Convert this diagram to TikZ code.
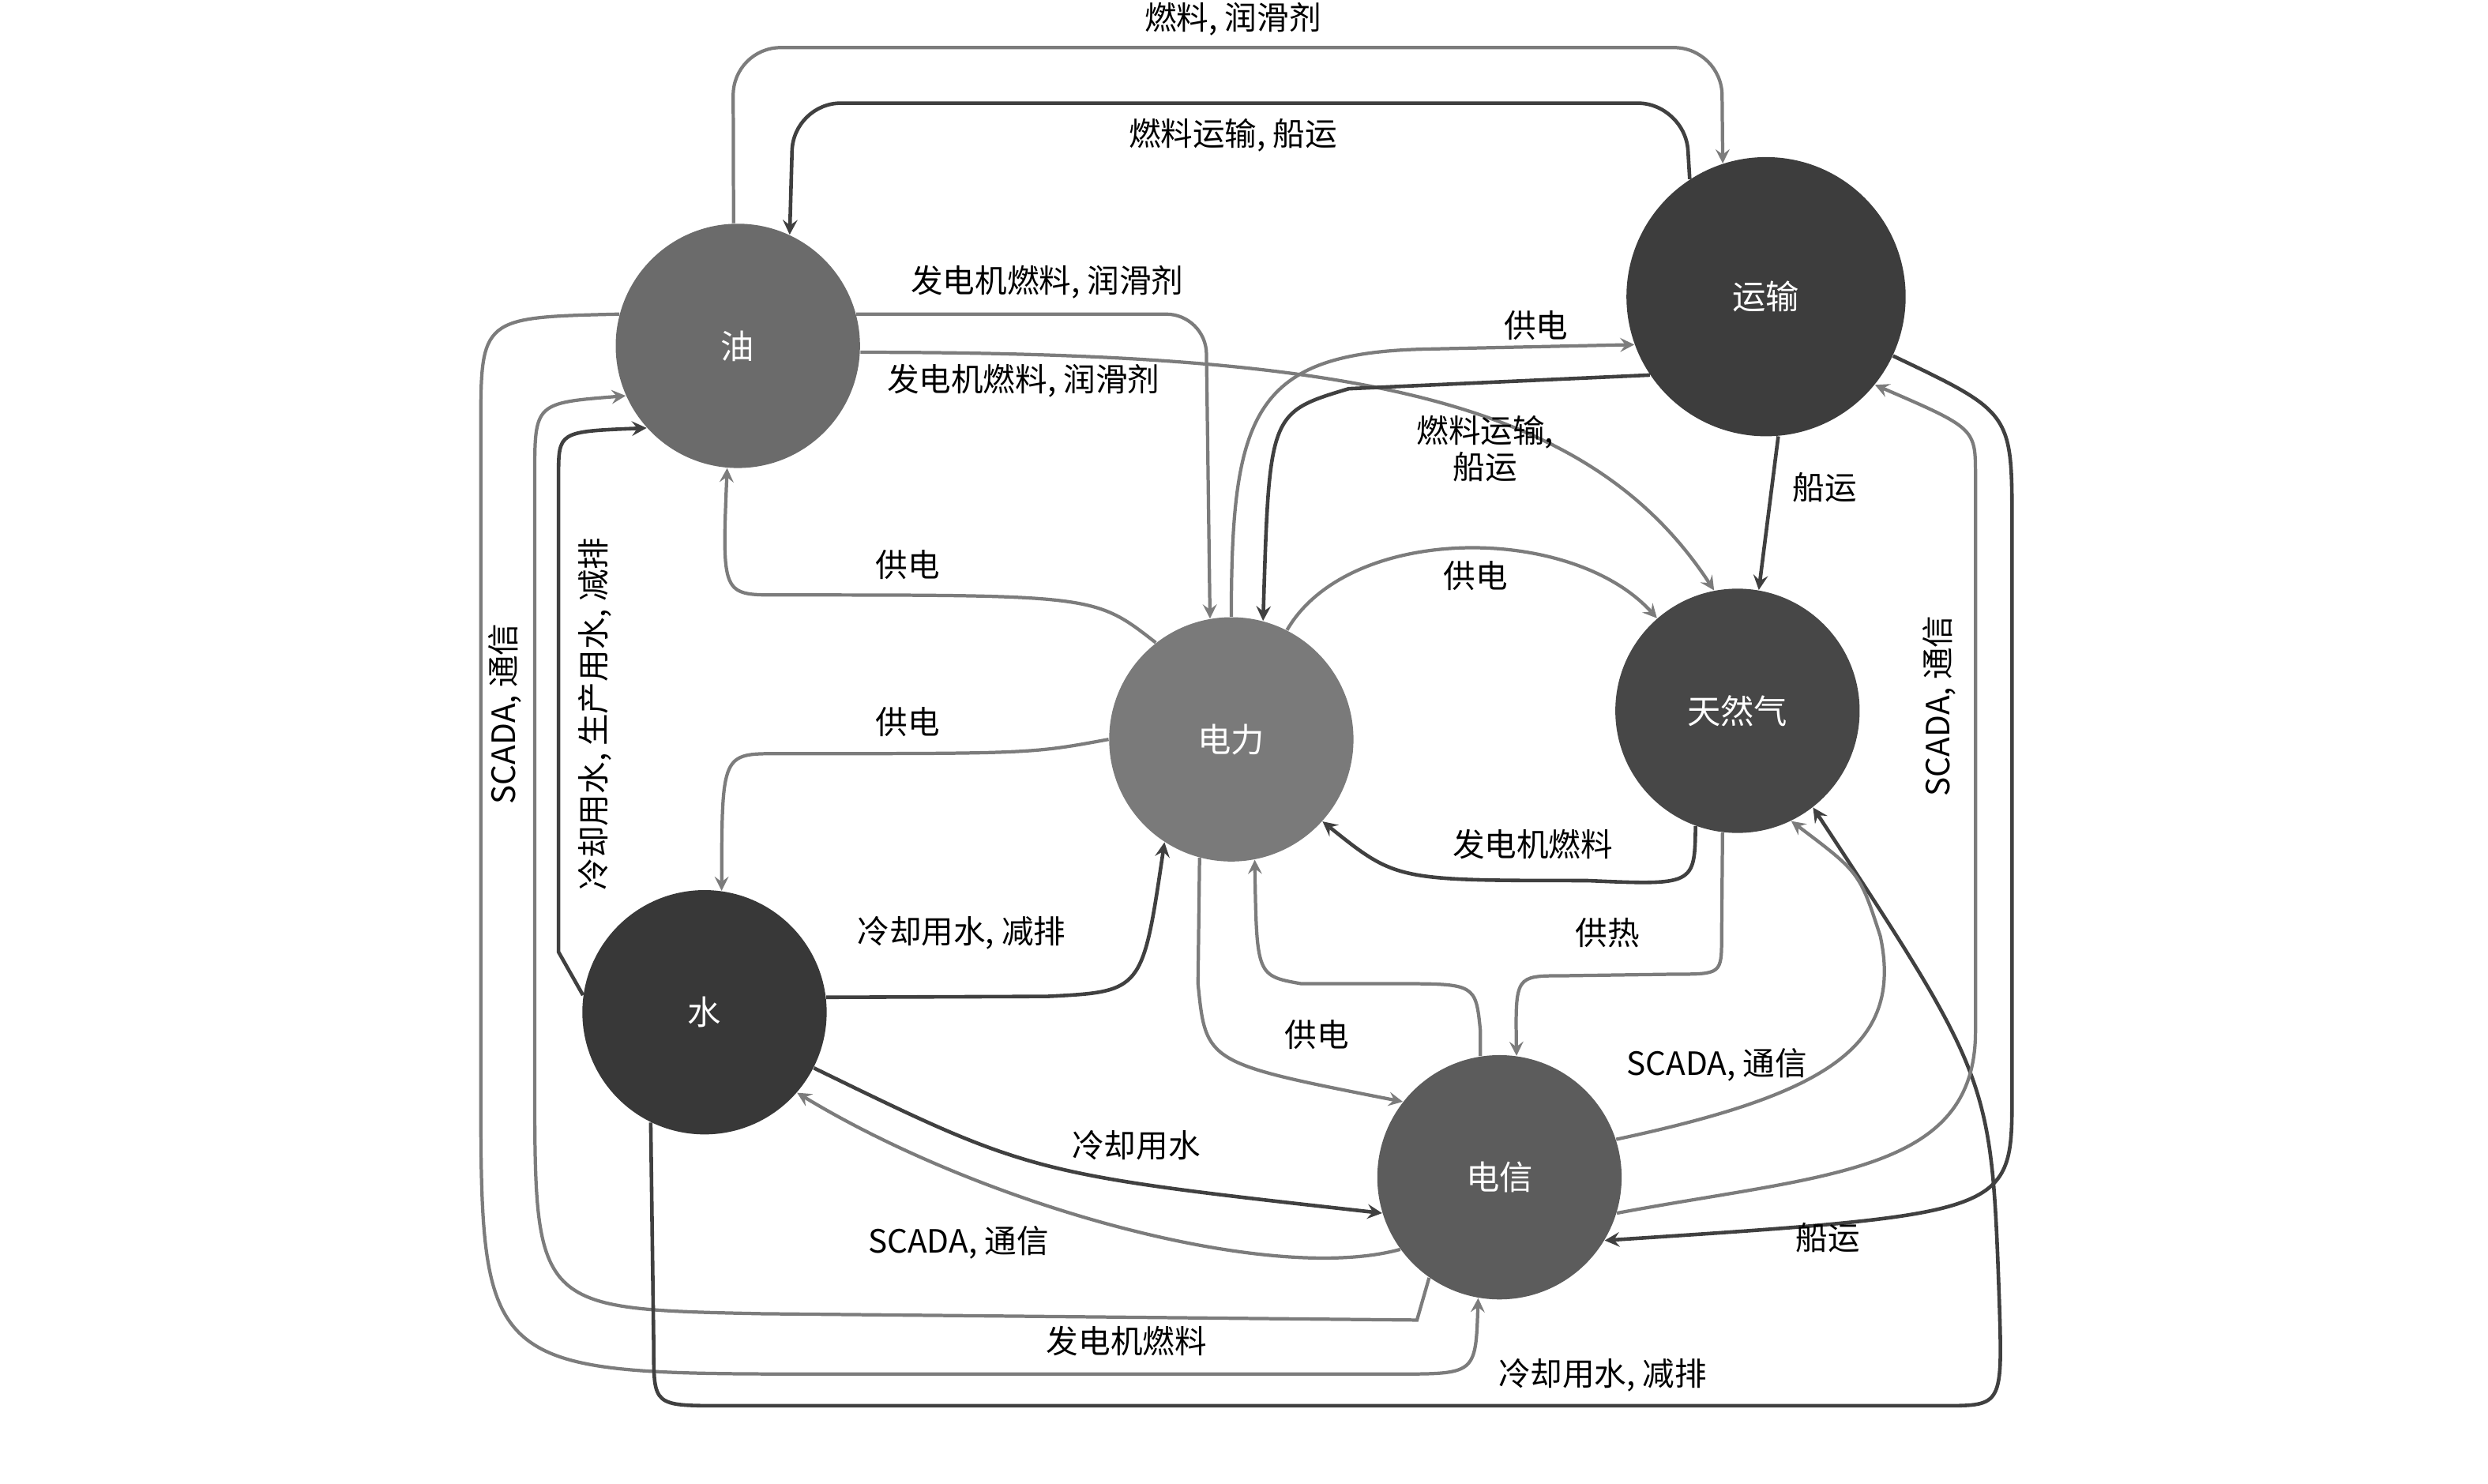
\documentclass[tikz,border=0pt]{standalone}
\usepackage{fontspec}
\setmainfont{Noto Sans CJK SC}
\usetikzlibrary{arrows}
\definecolor{linkgray}{HTML}{7C7C7C}
\definecolor{linkdark}{HTML}{404040}
\tikzstyle{link} = [line width=1.2pt, ->, >=stealth, linkgray]
\tikzstyle{linkd} = [line width=1.3pt, ->, >=stealth, linkdark]
\tikzstyle{lbl} = [font=\fontsize{11.5}{13}\selectfont, inner sep=1pt]
\tikzstyle{circleNode} = [
                circle,
                minimum size = 3.08cm,
                text centered,
                text=white,
                font=\fontsize{12}{14}\selectfont,
                inner sep=0cm
            ]
\begin{document}
\begin{tikzpicture}[x=0.02cm, y=-0.02cm]
\useasboundingbox (0,0) rectangle (1568,935);
\node (oil) [circleNode, fill=black!58] at (465,218) {油};
\node (trans) [circleNode, fill=black!76, minimum size=3.52cm] at (1113,187) {运输};
\node (power) [circleNode, fill=black!52] at (776,466) {电力};
\node (gas) [circleNode, fill=black!72] at (1095,448) {天然气};
\node (water) [circleNode, fill=black!78] at (444,638) {水};
\node (tele) [circleNode, fill=black!64] at (945,742) {电信};
% top
\draw [link, rounded corners=0.6cm] (oil.92) -- (462,30) -- (1085,30) -- (trans.108);
\draw [linkd, rounded corners=0.6cm] (trans.123) -- (1062,65) -- (500,65) -- (oil.65);
\draw [link, rounded corners=0.5cm] (oil.15) -- (760,198) -- (power.100);
\draw [link] (oil.-3) .. controls (850,222) and (1000,250) .. (gas.101);
\draw [link] (power.90) .. controls (776,260) and (790,222) .. (900,220) -- (trans.200);
\draw [linkd] (trans.214) -- (850,245) .. controls (800,260) .. (power.75);
\draw [linkd] (trans.-85) -- (gas.80);
\draw [link] (power.63) .. controls (850,330) and (990,330) .. (gas.131);
\draw [link] (power.128) .. controls (690,375) .. (490,375) .. controls (455,375) .. (oil.-95);
\draw [link] (power.180) .. controls (650,475) .. (490,475) .. controls (455,475) .. (water.82);
% middle
\draw [linkd] (gas.-110) .. controls (1068,558) .. (1000,555) .. controls (880,555) .. (power.-42);
\draw [link] (gas.-97) -- (1085,590) .. controls (1085,614) .. (1055,614) -- (985,615) .. controls (955,615) .. (tele.82);
\draw [linkd] (water.7) -- (660,628) .. controls (720,625) .. (power.-123);
\draw [link] (power.-105) -- (755,620) .. controls (760,670) .. (tele.142);
\draw [link] (tele.99) -- (933,650) .. controls (930,620) .. (880,620) -- (820,620) .. controls (792,615) .. (power.-79);
\draw [linkd] (water.-27) .. controls (650,740) .. (tele.-163);
\draw [link] (tele.216) .. controls (800,810) and (620,760) .. (water.-41);
% left and bottom
\draw [link] (oil.165) .. controls (303,200) .. (303,270) -- (303,680) .. controls (303,866) .. (520,866) -- (880,866) .. controls (930,866) .. (tele.260);
\draw [link] (tele.235) -- (893,832) -- (480,828) .. controls (337,825) .. (337,680) -- (337,300) .. controls (337,254) .. (oil.204);
\draw [linkd] (water.172) -- (352,600) -- (352,300) .. controls (352,272) .. (oil.222);
\draw [linkd] (water.-116) -- (412,850) .. controls (412,886) .. (455,886) -- (1225,886) .. controls (1262,886) .. (1260,820) .. controls (1255,680) .. (gas.-52);
% right
\draw [link] (tele.18) .. controls (1150,690) and (1200,660) .. (1185,590) .. controls (1172,550) .. (gas.-64);
\draw [link] (tele.-17) .. controls (1150,740) and (1245,740) .. (1245,650) -- (1245,300) .. controls (1245,270) .. (trans.-39);
\draw [linkd] (trans.-25) .. controls (1268,260) .. (1268,330) -- (1268,690) .. controls (1268,765) .. (tele.-31);
% labels
\node (l1) [lbl] at (777,12) {燃料, 润滑剂};
\node (l2) [lbl] at (777,85) {燃料运输, 船运};
\node (l3) [lbl] at (660,178) {发电机燃料, 润滑剂};
\node (l4) [lbl] at (645,240) {发电机燃料, 润滑剂};
\node (l5) [lbl] at (968,205) {供电};
\node (l6) [lbl, align=center] at (936,283) {燃料运输,\\船运};
\node (l7) [lbl] at (1150,307) {船运};
\node (l8) [lbl] at (930,363) {供电};
\node (l9) [lbl] at (572,356) {供电};
\node (l10) [lbl] at (572,455) {供电};
\node (l11) [lbl] at (966,532) {发电机燃料};
\node (l12) [lbl] at (1013,588) {供热};
\node (l13) [lbl] at (606,588) {冷却用水, 减排};
\node (l14) [lbl] at (830,652) {供电};
\node (l15) [lbl] at (716,722) {冷却用水};
\node (l16) [lbl] at (604,783) {SCADA, 通信};
\node (l17) [lbl] at (710,845) {发电机燃料};
\node (l18) [lbl] at (1010,867) {冷却用水, 减排};
\node (l19) [lbl] at (1082,671) {SCADA, 通信};
\node (l20) [lbl] at (1152,780) {船运};
\node (l21) [lbl, rotate=90] at (1222,445) {SCADA, 通信};
\node (l22) [lbl, rotate=90] at (318,450) {SCADA, 通信};
\node (l23) [lbl, rotate=90] at (375,450) {冷却用水, 生产用水, 减排};
\end{tikzpicture}
\end{document}
